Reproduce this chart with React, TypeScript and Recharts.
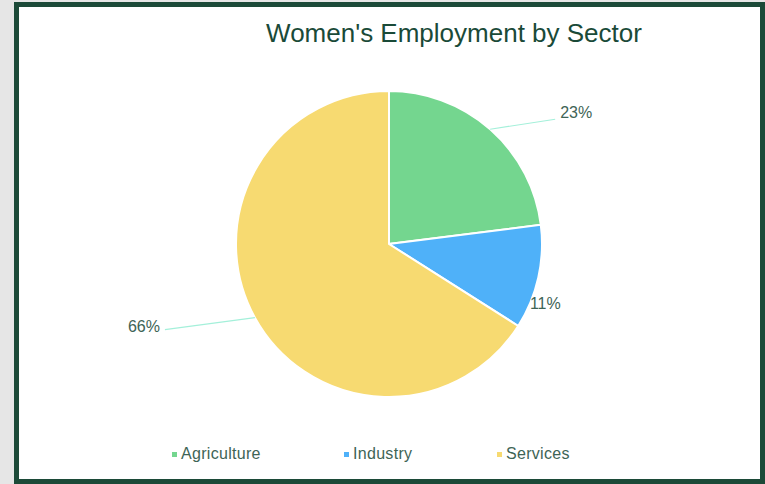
import React from 'react';
import { PieChart, Pie, Cell, Legend } from 'recharts';

const sectors = ['Agriculture', 'Industry', 'Services'];
const shares = [23, 11, 66];
const colors = ['#74d68f', '#4fb1f9', '#f7da71'];

const data = sectors.map((name, i) => ({ name, value: shares[i] }));

const RAD = Math.PI / 180;
const TEXT = '#3e6456';

// label placement relative to slice edge point (style only)
const labelOffsets = [
  { lx: 65, ly: -10, tx: 70, ty: -17, anchor: 'start', line: true },
  { lx: 0, ly: 0, tx: 7, ty: 26, anchor: 'middle', line: false },
  { lx: -90, ly: 12, tx: -95, ty: 9, anchor: 'end', line: true },
];

const renderLabel = (props: any) => {
  const { cx, cy, midAngle, outerRadius, index, percent } = props;
  const ex = cx + outerRadius * Math.cos(-midAngle * RAD);
  const ey = cy + outerRadius * Math.sin(-midAngle * RAD);
  const o = labelOffsets[index];
  return (
    <g key={`lbl-${index}`}>
      {o.line && (
        <line x1={ex} y1={ey} x2={ex + o.lx} y2={ey + o.ly} stroke="#a4f0da" strokeWidth={1.2} />
      )}
      <text
        x={ex + o.tx}
        y={ey + o.ty}
        textAnchor={o.anchor as any}
        dominantBaseline="central"
        fill={TEXT}
        fontSize={16}
        fontFamily="Liberation Sans, Arial, sans-serif"
      >
        {`${Math.round(percent * 100)}%`}
      </text>
    </g>
  );
};

const renderLegend = () => (
  <div style={{ position: 'relative', width: 765, height: 24, fontFamily: 'Liberation Sans, Arial, sans-serif' }}>
    {sectors.map((s, i) => (
      <div
        key={s}
        style={{
          position: 'absolute',
          left: [172, 344, 497][i],
          top: 0,
          display: 'flex',
          alignItems: 'center',
          color: TEXT,
          fontSize: 16,
          letterSpacing: 0.3,
        }}
      >
        <span style={{ display: 'inline-block', width: 5, height: 5, background: colors[i], marginRight: 4 }} />
        <span>{s}</span>
      </div>
    ))}
  </div>
);

export default function App() {
  return (
    <div style={{ position: 'fixed', left: 0, top: 0, width: 765, height: 484, background: '#e6e6e6', overflow: 'hidden' }}>
      <div
        style={{
          position: 'absolute',
          left: 14,
          top: 2,
          width: 751,
          height: 482,
          boxSizing: 'border-box',
          border: '5px solid #1c4a38',
          background: '#ffffff',
        }}
      />
      <div
        style={{
          position: 'absolute',
          left: 0,
          top: 18,
          width: 908,
          textAlign: 'center',
          fontFamily: 'Liberation Sans, Arial, sans-serif',
          fontSize: 26,
          color: '#1a4a38',
        }}
      >
        Women's Employment by Sector
      </div>
      <div style={{ position: 'absolute', left: 0, top: 0 }}>
        <PieChart width={765} height={484} margin={{ top: 0, right: 0, bottom: 0, left: 0 }}>
          <Pie
            data={data}
            dataKey="value"
            nameKey="name"
            cx={389}
            cy={244}
            outerRadius={153}
            startAngle={90}
            endAngle={-270}
            stroke="#ffffff"
            strokeWidth={2}
            label={renderLabel}
            labelLine={false}
            isAnimationActive={false}
          >
            {data.map((d, i) => (
              <Cell key={d.name} fill={colors[i]} />
            ))}
          </Pie>
          <Legend content={renderLegend} wrapperStyle={{ left: 0, top: 445, width: 765 }} />
        </PieChart>
      </div>
    </div>
  );
}
